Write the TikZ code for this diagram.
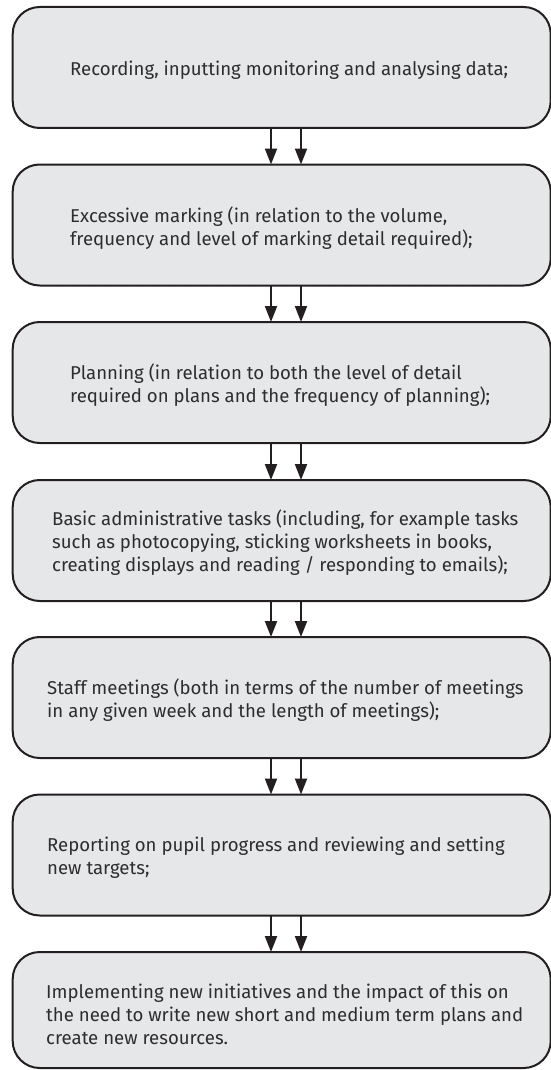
\documentclass[tikz,border=0pt]{standalone}
\usepackage{fontspec}
\setmainfont{Fira Sans}
\usetikzlibrary{arrows.meta}
\definecolor{boxfill}{HTML}{E6E7E8}
\definecolor{boxline}{HTML}{231F20}
\definecolor{txt}{HTML}{2D2D2F}
\tikzset{
  stepbox/.style={draw=boxline, fill=boxfill, line width=2pt, rounded corners=27pt,
    minimum width=538pt, minimum height=121pt, inner sep=0pt, outer sep=0pt},
  label/.style={anchor=west, align=left, inner sep=0pt, text=txt,
    font=\fontsize{18.6}{23}\selectfont},
  arr/.style={draw=boxline, line width=2pt, -{Triangle[width=12pt,length=16pt]}}
}
\begin{document}
\begin{tikzpicture}[x=1pt,y=-1pt]
\useasboundingbox (0,0) rectangle (550,1070);
\node[stepbox] (b1) at (281.7,67.5) {};
\node[stepbox] (b2) at (281.7,225) {};
\node[stepbox] (b3) at (281.7,382.5) {};
\node[stepbox] (b4) at (281.7,540.5) {};
\node[stepbox] (b5) at (281.7,697.5) {};
\node[stepbox] (b6) at (281.7,855) {};
\node[stepbox, minimum height=116pt] (b7) at (281.7,1010) {};
\node[label] (t1) at (70,70) {Recording, inputting monitoring and analysing data;};
\node[label] (t2) at (70,228) {Excessive marking (in relation to the volume,\\frequency and level of marking detail required);};
\node[label] (t3) at (70,385.5) {Planning (in relation to both the level of detail\\required on plans and the frequency of planning);};
\node[label] (t4) at (52,543) {Basic administrative tasks (including, for example tasks\\such as photocopying, sticking worksheets in books,\\creating displays and reading / responding to emails);};
\node[label] (t5) at (47,700.5) {Staff meetings (both in terms of the number of meetings\\in any given week and the length of meetings);};
\node[label] (t6) at (47,858) {Reporting on pupil progress and reviewing and setting\\new targets;};
\node[label] (t7) at (46,1014) {Implementing new initiatives and the impact of this on\\the need to write new short and medium term plans and\\create new resources.};
\foreach \a/\b in {b1/b2,b2/b3,b3/b4,b4/b5,b5/b6,b6/b7}{
  \draw[arr] ([xshift=-10.7pt]\a.south) -- ([xshift=-10.7pt]\b.north);
  \draw[arr] ([xshift=19.3pt]\a.south) -- ([xshift=19.3pt]\b.north);
}
\end{tikzpicture}
\end{document}
